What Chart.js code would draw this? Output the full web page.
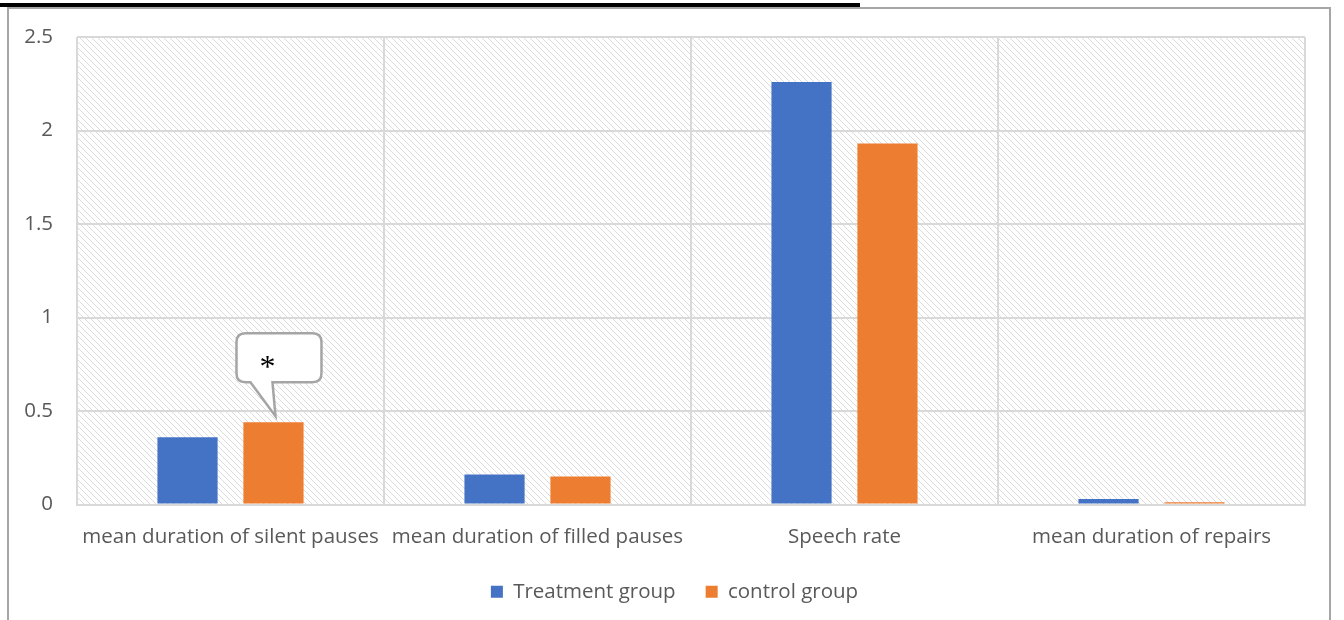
<!DOCTYPE html>
<html>
<head>
<meta charset="utf-8">
<script src="https://cdn.jsdelivr.net/npm/chart.js@4.4.1/dist/chart.umd.min.js"></script>
<style>
  html, body { margin: 0; padding: 0; background: #fff; }
  #wrap { position: relative; width: 1344px; height: 620px; overflow: hidden; }
  #titleBar { position: absolute; left: 0; top: 3px; width: 860px; height: 4px; background: #000; }
  #frame { position: absolute; left: 7px; top: 7px; width: 1324px; height: 640px;
           border: 2px solid #a6a6a6; box-sizing: border-box; }
  #chart { position: absolute; left: 0; top: 0; }
</style>
</head>
<body>
<div id="wrap">
  <div id="titleBar"></div>
  <div id="frame"></div>
  <canvas id="chart" width="1344" height="620"></canvas>
</div>
<script>
const categories = ['mean duration of silent pauses', 'mean duration of filled pauses', 'Speech rate', 'mean duration of repairs'];
const treatmentValues = [0.36, 0.16, 2.26, 0.03];
const controlValues = [0.44, 0.15, 1.93, 0.012];
const seriesNames = ['Treatment group', 'control group'];
const calloutText = '*';

const FONT = '"Open Sans", "Noto Sans", sans-serif';

// diagonal hatch behind the plot area
function makeHatch(ctx) {
    const c = document.createElement('canvas');
    c.width = 6; c.height = 6;
    const p = c.getContext('2d');
    p.fillStyle = '#ffffff';
    p.fillRect(0, 0, 6, 6);
    p.strokeStyle = '#dcdcdc';
    p.lineWidth = 1;
    p.beginPath();
    p.moveTo(0, 0); p.lineTo(6, 6);
    p.moveTo(-3, 3); p.lineTo(3, 9);
    p.moveTo(3, -3); p.lineTo(9, 3);
    p.stroke();
    return ctx.createPattern(c, 'repeat');
}

const hatchPlugin = {
    id: 'hatch',
    afterLayout(chart) {
        // legend sits a bit right of the canvas centre in the original
        if (chart.legend) { chart.legend.left += 22; chart.legend.right += 22; }
    },
    beforeDraw(chart) {
        const { ctx, chartArea: a } = chart;
        ctx.save();
        ctx.fillStyle = makeHatch(ctx);
        ctx.fillRect(a.left, a.top, a.right - a.left, a.bottom - a.top);
        ctx.restore();
    }
};

// speech-bubble with asterisk above the control bar of the first category
const calloutPlugin = {
    id: 'callout',
    afterDatasetsDraw(chart) {
        const bar = chart.getDatasetMeta(1).data[0];
        if (!bar) return;
        const ctx = chart.ctx;
        const bx = bar.x, by = bar.y;
        const l = bx - 37, r = bx + 48, t = by - 89, b = by - 40, rad = 9;
        const tipX = bx + 2, tipY = by - 6;
        ctx.save();
        ctx.beginPath();
        ctx.moveTo(l + rad, t);
        ctx.lineTo(r - rad, t);
        ctx.quadraticCurveTo(r, t, r, t + rad);
        ctx.lineTo(r, b - rad);
        ctx.quadraticCurveTo(r, b, r - rad, b);
        ctx.lineTo(bx - 1, b);
        ctx.lineTo(tipX, tipY);
        ctx.lineTo(bx - 23, b);
        ctx.lineTo(l + rad, b);
        ctx.quadraticCurveTo(l, b, l, b - rad);
        ctx.lineTo(l, t + rad);
        ctx.quadraticCurveTo(l, t, l + rad, t);
        ctx.closePath();
        ctx.fillStyle = '#ffffff';
        ctx.fill();
        ctx.strokeStyle = '#a5a5a5';
        ctx.lineWidth = 2.5;
        ctx.stroke();
        ctx.fillStyle = '#000000';
        ctx.font = '32px "Liberation Serif", serif';
        ctx.textAlign = 'center';
        ctx.textBaseline = 'middle';
        ctx.fillText(calloutText, bx - 6, by - 54);
        ctx.restore();
    }
};

new Chart(document.getElementById('chart'), {
    type: 'bar',
    data: {
        labels: categories,
        datasets: [
            { label: seriesNames[0], data: treatmentValues, backgroundColor: '#4472C4' },
            { label: seriesNames[1], data: controlValues, backgroundColor: '#ED7D31' }
        ]
    },
    options: {
        responsive: false,
        animation: false,
        layout: { padding: { left: 0, top: 37, right: 39, bottom: 8 } },
        datasets: { bar: { categoryPercentage: 0.56, barPercentage: 0.7 } },
        scales: {
            x: {
                grid: { color: '#d9d9d9', lineWidth: 2, drawTicks: false, offset: true },
                border: { color: '#d9d9d9', width: 2 },
                ticks: { color: '#595959', font: { family: FONT, size: 20.5 }, padding: 20, maxRotation: 0, autoSkip: false },
                afterFit(s) { s.height = 47; }
            },
            y: {
                min: 0, max: 2.5,
                grid: { color: '#d9d9d9', lineWidth: 2, drawTicks: false },
                border: { display: false },
                ticks: { stepSize: 0.5, color: '#595959', font: { family: FONT, size: 20.5 }, padding: 24,
                         callback: v => String(v) },
                afterFit(s) { s.width = 77; }
            }
        },
        plugins: {
            legend: {
                position: 'bottom',
                labels: { color: '#595959', font: { family: FONT, size: 20.5 }, boxWidth: 12, boxHeight: 12, padding: 30 }
            },
            tooltip: { enabled: false }
        }
    },
    plugins: [hatchPlugin, calloutPlugin]
});
</script>
</body>
</html>
